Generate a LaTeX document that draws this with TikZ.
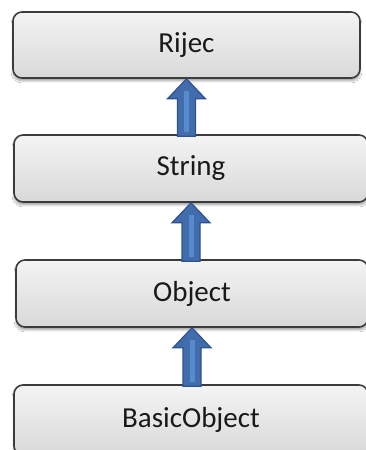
\documentclass[tikz,border=0pt]{standalone}
\usepackage{fontspec}
\setmainfont{Carlito}
\usetikzlibrary{calc,shadows.blur}
\definecolor{arrfill}{RGB}{66,109,172}
\definecolor{arrdraw}{RGB}{47,82,143}
\definecolor{arrlight}{RGB}{88,138,206}
\definecolor{boxdraw}{RGB}{60,60,60}
\definecolor{txt}{RGB}{25,25,25}
\tikzset{
  classbox/.style={draw=boxdraw, line width=1.6pt, rounded corners=9pt,
    top color=gray!9, bottom color=gray!30,
    blur shadow={shadow xshift=0pt, shadow yshift=-3pt, shadow blur steps=6, shadow opacity=35},
    font=\fontsize{29}{32}\selectfont, text=txt},
}
\newcommand\inharrow[2]{%
  \path let \p1=(#1.north), \p2=(#2.south) in
    [fill=arrfill, draw=arrdraw, line width=1.2pt, line join=miter]
    (\x2,\y2) -- (\x2+19,\y2-20) -- (\x2+9,\y2-20) -- (\x2+9,\y1-2)
    -- (\x2-9,\y1-2) -- (\x2-9,\y2-20) -- (\x2-19,\y2-20) -- cycle;
  \path let \p1=(#1.north), \p2=(#2.south) in
    [draw=arrlight, line width=5pt] (\x2,\y2-12) -- (\x2,\y1+2);
}
\begin{document}
\begin{tikzpicture}[x=1pt,y=1pt]
\useasboundingbox[fill=white] (0,0) rectangle (366,450);
\node[classbox, minimum width=347pt, minimum height=66pt] (rijec) at (186.5,405) {Rijec};
\node[classbox, minimum width=354pt, minimum height=67pt] (string) at (191,281.5) {String};
\node[classbox, minimum width=352pt, minimum height=67pt] (object) at (192,156.5) {Object};
\node[classbox, minimum width=354pt, minimum height=70pt] (basic) at (191,30) {\raisebox{5pt}{BasicObject}};
\inharrow{string}{rijec}
\inharrow{object}{string}
\inharrow{basic}{object}
\end{tikzpicture}
\end{document}
